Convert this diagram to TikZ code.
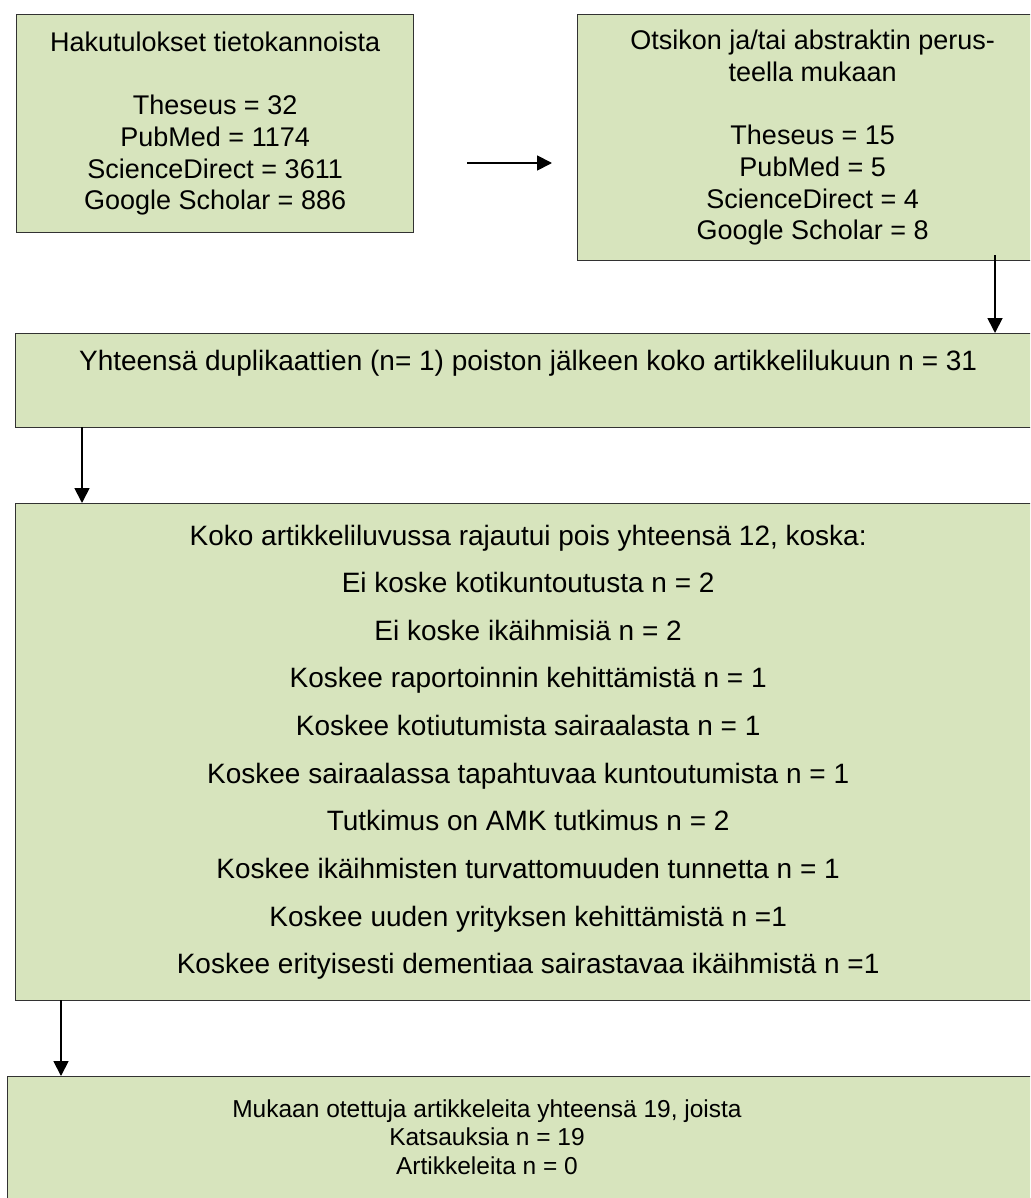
\documentclass[tikz,border=0pt]{standalone}
\usepackage{fontspec}
\setmainfont{Liberation Sans}
\usetikzlibrary{arrows.meta}
\definecolor{boxgreen}{RGB}{215,228,189}
\definecolor{boxline}{RGB}{50,50,50}

\begin{document}
\begin{tikzpicture}[x=1pt,y=-1pt,>={Triangle[width=15pt,length=15pt]},
  box/.style={draw=boxline,line width=1.3pt,fill=boxgreen,anchor=north west,align=center,inner sep=0pt,font=\fontsize{27}{31.7}\selectfont},
  arr/.style={->,line width=1.8pt}]
\clip (0,0) rectangle (1030,1198);
\fill[white] (0,0) rectangle (1030,1198);
% search hits and screened titles
\node[box,minimum width=397pt,minimum height=218pt] (hits) at (16,14) {Hakutulokset tietokannoista\\[31.7pt]Theseus = 32\\PubMed = 1174\\ScienceDirect = 3611\\Google Scholar = 886};
\node[box,minimum width=470pt,minimum height=246pt] (sel) at (577,14) {Otsikon ja/tai abstraktin perus-\\teella mukaan\\[31.7pt]Theseus = 15\\PubMed = 5\\ScienceDirect = 4\\Google Scholar = 8};
% duplicates removed
\node[box,minimum width=1025pt,minimum height=94pt,font=\fontsize{28}{31.7}\selectfont] (dup) at (15,333) {Yhteensä duplikaattien (n= 1) poiston jälkeen koko artikkelilukuun n = 31\\\strut};
% excluded at full text
\node[box,minimum width=1025pt,minimum height=497pt,font=\fontsize{28}{47.6}\selectfont] (excl) at (15,503) {Koko artikkeliluvussa rajautui pois yhteensä 12, koska:\\Ei koske kotikuntoutusta n = 2\\Ei koske ikäihmisiä n = 2\\Koskee raportoinnin kehittämistä n = 1\\Koskee kotiutumista sairaalasta n = 1\\Koskee sairaalassa tapahtuvaa kuntoutumista n = 1\\Tutkimus on AMK tutkimus n = 2\\Koskee ikäihmisten turvattomuuden tunnetta n = 1\\Koskee uuden yrityksen kehittämistä n =1\\Koskee erityisesti dementiaa sairastavaa ikäihmistä n =1};
% final set, text sits left of the box centre
\node[box,minimum width=1040pt,minimum height=140pt] (incl) at (7,1076) {};
\node[align=center,inner sep=0pt,font=\fontsize{24.5}{28.5}\selectfont] (incltxt) at (487,1137) {Mukaan otettuja artikkeleita yhteensä 19, joista\\Katsauksia n = 19\\Artikkeleita n = 0};
% arrows
\coordinate (k1) at (467,163);
\coordinate (k1e) at (552,163);
\coordinate (k2) at (995,255);
\coordinate (k3) at (82,427);
\coordinate (k4) at (61,1000);
\draw[arr] (k1) -- (k1e);
\draw[arr] (k2) -- (k2 |- dup.north);
\draw[arr] (k3) -- (k3 |- excl.north);
\draw[arr] (k4) -- (k4 |- incl.north);
\end{tikzpicture}
\end{document}
